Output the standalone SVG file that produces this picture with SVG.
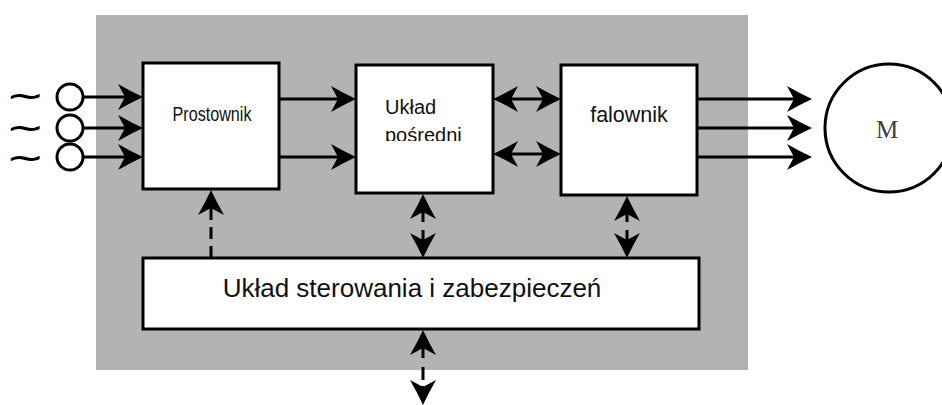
<svg xmlns="http://www.w3.org/2000/svg" width="942" height="405" viewBox="0 0 942 405">
<style>
.box{fill:#fff;stroke:#000;stroke-width:3}
.ln{fill:none;stroke:#000;stroke-width:3}
.ah{marker-end:url(#arr)}
.dbl{marker-start:url(#arr);marker-end:url(#arr)}
.sans{font-family:"Liberation Sans",Arial,sans-serif;fill:#111}
.tl{font-family:"DejaVu Sans",sans-serif;fill:#000;font-size:27px;font-weight:bold}
.circ{fill:#fff;stroke:#000;stroke-width:3}
</style>
<defs>
<marker id="arr" viewBox="0 0 25 27" markerWidth="25" markerHeight="27" refX="15" refY="13.5" orient="auto-start-reverse" markerUnits="userSpaceOnUse">
<path d="M25,13.5 Q13,8 0,0.5 L7,13.5 L0,26.5 Q13,19 25,13.5 Z" fill="#000"/>
</marker>
<clipPath id="clipU"><rect x="356" y="65" width="137" height="76"/></clipPath>
</defs>
<rect id="frame" x="96" y="15" width="652" height="355" fill="#b3b3b3"/>
<g id="sources">
<text class="tl" transform="translate(6,105) scale(1.7,1)">~</text>
<text class="tl" transform="translate(6,137) scale(1.7,1)">~</text>
<text class="tl" transform="translate(6,167) scale(1.7,1)">~</text>
<circle class="circ" cx="70" cy="97" r="13"/>
<circle class="circ" cx="70" cy="128" r="13"/>
<circle class="circ" cx="70" cy="157" r="13"/>
</g>
<g id="prostownik">
<rect class="box" x="143" y="63" width="136" height="126"/>
<text class="sans" x="212" y="121" font-size="21" text-anchor="middle" textLength="79" lengthAdjust="spacingAndGlyphs">Prostownik</text>
</g>
<g id="uklad-posredni">
<rect class="box" x="356" y="65" width="137" height="128"/>
<g clip-path="url(#clipU)">
<text class="sans" x="385" y="114" font-size="20">Układ</text>
<text class="sans" x="385" y="142" font-size="20">pośredni</text>
</g>
</g>
<g id="falownik">
<rect class="box" x="561" y="65" width="136" height="130"/>
<text class="sans" x="629" y="122" font-size="21.5" text-anchor="middle">falownik</text>
</g>
<g id="sterowanie">
<rect class="box" x="143" y="258" width="556" height="71"/>
<text class="sans" x="412" y="297" font-size="26" text-anchor="middle">Układ sterowania i zabezpieczeń</text>
</g>
<g id="silnik">
<circle cx="889" cy="128" r="64" fill="#fff" stroke="#000" stroke-width="3"/>
<text x="887" y="138" font-family="'Liberation Serif','Times New Roman',serif" font-size="25" fill="#404040" text-anchor="middle">M</text>
</g>
<g id="connectors">
<line class="ln ah" x1="83" y1="97" x2="133" y2="97"/>
<line class="ln ah" x1="83" y1="128" x2="133" y2="128"/>
<line class="ln ah" x1="83" y1="157" x2="133" y2="157"/>
<line class="ln ah" x1="279" y1="99" x2="346" y2="99"/>
<line class="ln ah" x1="279" y1="157" x2="346" y2="157"/>
<line class="ln dbl" x1="503" y1="99" x2="551" y2="99"/>
<line class="ln dbl" x1="503" y1="154" x2="551" y2="154"/>
<line class="ln ah" x1="697" y1="99" x2="802" y2="99"/>
<line class="ln ah" x1="697" y1="128" x2="802" y2="128"/>
<line class="ln ah" x1="697" y1="157" x2="802" y2="157"/>
<line class="ln ah" x1="211" y1="258" x2="211" y2="200" stroke-dasharray="12,7"/>
<line class="ln dbl" x1="423" y1="204" x2="423" y2="248" stroke-dasharray="18,8,18"/>
<line class="ln dbl" x1="627" y1="206" x2="627" y2="248" stroke-dasharray="16,8,20"/>
<line class="ln dbl" x1="423" y1="340" x2="423" y2="395" stroke-dasharray="18,9,13,6,9"/>
</g>
</svg>
